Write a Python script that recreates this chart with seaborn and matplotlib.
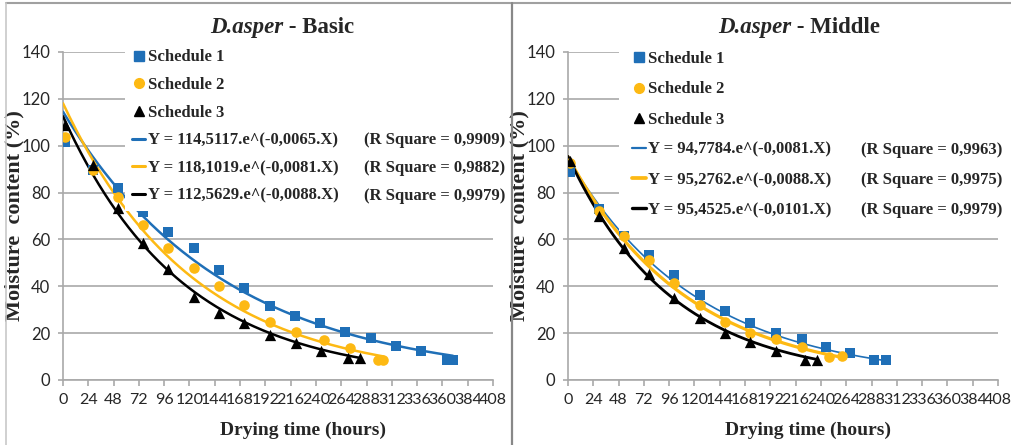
import numpy as np
import pandas as pd
import matplotlib
matplotlib.use("Agg")
import matplotlib.pyplot as plt
import seaborn as sns
from matplotlib.lines import Line2D
from matplotlib.transforms import Bbox, TransformedBbox

sns.set_theme(style="white")
plt.rcParams['font.family'] = ['Liberation Serif', 'DejaVu Serif']

TICK_FONT = ['Liberation Sans Narrow', 'Lato', 'DejaVu Sans']

# ---- data: moisture content (%) against drying time (hours) ----
schedule_names = ["Schedule 1", "Schedule 2", "Schedule 3"]

basic_hours_s1 = [2, 28, 52, 76, 100, 124, 148, 172, 196, 220, 244, 268, 292, 316, 340, 364, 370]
basic_mc_s1 = [101.6, 89.5, 81.8, 71.8, 63.3, 56.2, 46.9, 39.1, 31.6, 27.3, 24.2, 20.6, 17.8, 14.5, 12.5, 8.5, 8.5]
basic_hours_s2 = [2, 28, 52, 76, 100, 124, 148, 172, 196, 221, 248, 272, 299, 304]
basic_mc_s2 = [103.8, 89.5, 78.2, 66.1, 56.2, 47.6, 40.1, 32.0, 24.9, 20.6, 17.1, 13.5, 8.5, 8.5]
basic_hours_s3 = [2, 28, 52, 76, 100, 124, 148, 172, 196, 221, 245, 270, 282]
basic_mc_s3 = [108.7, 91.7, 73.3, 58.6, 47.2, 35.6, 28.7, 24.2, 19.2, 15.9, 12.5, 9.2, 9.2]

middle_hours_s1 = [2, 29, 53, 77, 101, 125, 149, 173, 197, 222, 245, 268, 290, 302]
middle_mc_s1 = [88.8, 72.9, 63.3, 53.4, 44.8, 36.3, 29.4, 24.2, 19.9, 17.4, 14.2, 11.4, 8.5, 8.5]
middle_hours_s2 = [2, 29, 53, 77, 101, 125, 149, 173, 197, 222, 248, 260]
middle_mc_s2 = [92.7, 72.3, 61.5, 51.2, 41.5, 32.0, 24.9, 19.9, 17.4, 14.2, 10.0, 10.2]
middle_hours_s3 = [2, 29, 53, 77, 101, 125, 149, 173, 197, 225, 236]
middle_mc_s3 = [93.5, 70.0, 56.2, 45.1, 35.1, 26.6, 20.2, 16.4, 12.5, 8.5, 8.5]

# exponential trend lines Y = a.e^(b.X)
basic_a = [114.5117, 118.1019, 112.5629]
basic_b = [-0.0065, -0.0081, -0.0088]
basic_r2 = ["0,9909", "0,9882", "0,9979"]
middle_a = [94.7784, 95.2762, 95.4525]
middle_b = [-0.0081, -0.0088, -0.0101]
middle_r2 = ["0,9963", "0,9975", "0,9979"]

x_ticks = list(range(0, 409, 24))
y_ticks = list(range(0, 141, 20))

# ---- styling ----
colors = ["#1f6fb7", "#fdb913", "#000000"]
markers = ["s", "o", "^"]
marker_sizes = [58, 58, 66]
GRID = "#a9a9a9"


def fmt(v, nd):
    return f"{v:.{nd}f}".replace(".", ",")


panels = [
    dict(species="D.asper", part=" - Basic",
         hours=[basic_hours_s1, basic_hours_s2, basic_hours_s3],
         mc=[basic_mc_s1, basic_mc_s2, basic_mc_s3],
         a=basic_a, b=basic_b, r2=basic_r2,
         lw=[1.8, 1.8, 1.8], left=63, title_x=0.342,
         leg_x0=125, leg_top=1.029, leg_pad=0.42, leg_space=0.70,
         r2_x=0.700, clip=(0, 511)),
    dict(species="D.asper", part=" - Middle",
         hours=[middle_hours_s1, middle_hours_s2, middle_hours_s3],
         mc=[middle_mc_s1, middle_mc_s2, middle_mc_s3],
         a=middle_a, b=middle_b, r2=middle_r2,
         lw=[1.2, 2.3, 2.0], left=568, title_x=0.349,
         leg_x0=619, leg_top=1.043, leg_pad=0.8, leg_space=0.85,
         r2_x=0.681, clip=(513, 1011)),
]

W, H = 1011, 445
fig = plt.figure(figsize=(W / 100, H / 100), dpi=100)
fig.patch.set_facecolor("white")

ax_w, ax_bottom, ax_top = 430, 380, 52

for p in panels:
    ax = fig.add_axes([p["left"] / W, (H - ax_bottom) / H, ax_w / W, (ax_bottom - ax_top) / H])
    ax.set_facecolor("white")

    for i in range(3):
        df = pd.DataFrame({"hours": p["hours"][i], "moisture": p["mc"][i]})
        xs = np.linspace(0, max(p["hours"][i]), 200)
        fit = pd.DataFrame({"hours": xs, "moisture": p["a"][i] * np.exp(p["b"][i] * xs)})
        sns.lineplot(data=fit, x="hours", y="moisture", color=colors[i], lw=p["lw"][i],
                     ax=ax, zorder=3, legend=False)
        sns.scatterplot(data=df, x="hours", y="moisture", marker=markers[i], color=colors[i],
                        s=marker_sizes[i], linewidth=0, ax=ax, zorder=4, legend=False)

    ax.set_xlim(0, 408)
    ax.set_ylim(0, 140)
    ax.set_xticks(x_ticks)
    ax.set_yticks(y_ticks)
    ax.set_xlabel("")
    ax.set_ylabel("")
    ax.grid(axis="y", color=GRID, lw=1.2)
    ax.grid(axis="x", visible=False)
    for side in ["top", "right"]:
        ax.spines[side].set_visible(False)
    for side in ["left", "bottom"]:
        ax.spines[side].set_color(GRID)
        ax.spines[side].set_linewidth(1.2)
    ax.tick_params(axis="y", left=True, length=3.6, width=1.2, color=GRID, pad=5.5,
                   labelsize=12, labelcolor="#262626")
    ax.tick_params(axis="x", bottom=True, length=4.5, width=1.2, color=GRID, pad=5,
                   labelsize=11.5, labelcolor="#262626")
    for lab in ax.get_xticklabels() + ax.get_yticklabels():
        lab.set_family(TICK_FONT)

    # title: italic species name followed by the stem part
    t1 = ax.text(p["title_x"], 1.076, p["species"], transform=ax.transAxes, ha="left",
                 va="center", fontsize=16.5, fontweight="bold", fontstyle="italic", zorder=7)
    ax.annotate(p["part"], xy=(1, 0), xycoords=t1, ha="left", va="bottom",
                fontsize=16.5, fontweight="bold", annotation_clip=False, zorder=7)

    ax.text(-0.112, 0.5, "Moisture  content (%)", transform=ax.transAxes, rotation=90,
            ha="center", va="center", fontsize=16, fontweight="bold")
    ax.text(0.558, -0.155, "Drying time (hours)", transform=ax.transAxes,
            ha="center", va="center", fontsize=14, fontweight="bold")

    # legend: markers, then trend lines with their equations
    handles, labels = [], []
    for i in range(3):
        handles.append(Line2D([], [], marker=markers[i], color=colors[i], linestyle="None",
                              markersize=7 if i < 2 else 7.5))
        labels.append(schedule_names[i])
    for i in range(3):
        handles.append(Line2D([], [], color=colors[i], lw=p["lw"][i] + 0.4))
        labels.append(f"Y = {fmt(p['a'][i], 4)}.e^({fmt(p['b'][i], 4)}.X)")

    x0 = (p["leg_x0"] - p["left"]) / ax_w
    wid = (p["clip"][1] - p["leg_x0"]) / ax_w
    leg = ax.legend(handles, labels, loc="upper left",
                    bbox_to_anchor=(x0, 0, wid, p["leg_top"]), mode="expand",
                    frameon=True, facecolor="white", edgecolor="none", framealpha=1,
                    fancybox=False, borderaxespad=0, borderpad=p["leg_pad"],
                    handlelength=0.8, handletextpad=0.15, labelspacing=p["leg_space"],
                    prop=dict(family="Liberation Serif", weight="bold", size=12))
    leg.set_zorder(5)

    clip_box = TransformedBbox(Bbox.from_extents(p["clip"][0] / W, 0, p["clip"][1] / W, 1),
                               fig.transFigure)
    for i, txt in enumerate(leg.get_texts()[3:]):
        ann = ax.annotate(f"(R Square = {p['r2'][i]})", xy=(p["r2_x"], 0.5),
                          xycoords=(ax.transAxes, txt), ha="left", va="center",
                          fontsize=12, fontweight="bold", annotation_clip=False, zorder=6)
        ann.set_clip_path(None)
        ann.set_clip_box(clip_box)
        ann.set_clip_on(True)

# panel frame
frame_col = "#a0a0a0"
fig.add_artist(Line2D([6 / W, 1], [1 - 3 / H, 1 - 3 / H], transform=fig.transFigure,
                      color=frame_col, lw=1.5))
fig.add_artist(Line2D([6 / W, 6 / W], [0, 1 - 3 / H], transform=fig.transFigure,
                      color="#c8c8c8", lw=1.2))
fig.add_artist(Line2D([512 / W, 512 / W], [0, 1 - 3 / H], transform=fig.transFigure,
                      color="#888888", lw=1.6))

fig.savefig("out.png", dpi=100, facecolor="white")
